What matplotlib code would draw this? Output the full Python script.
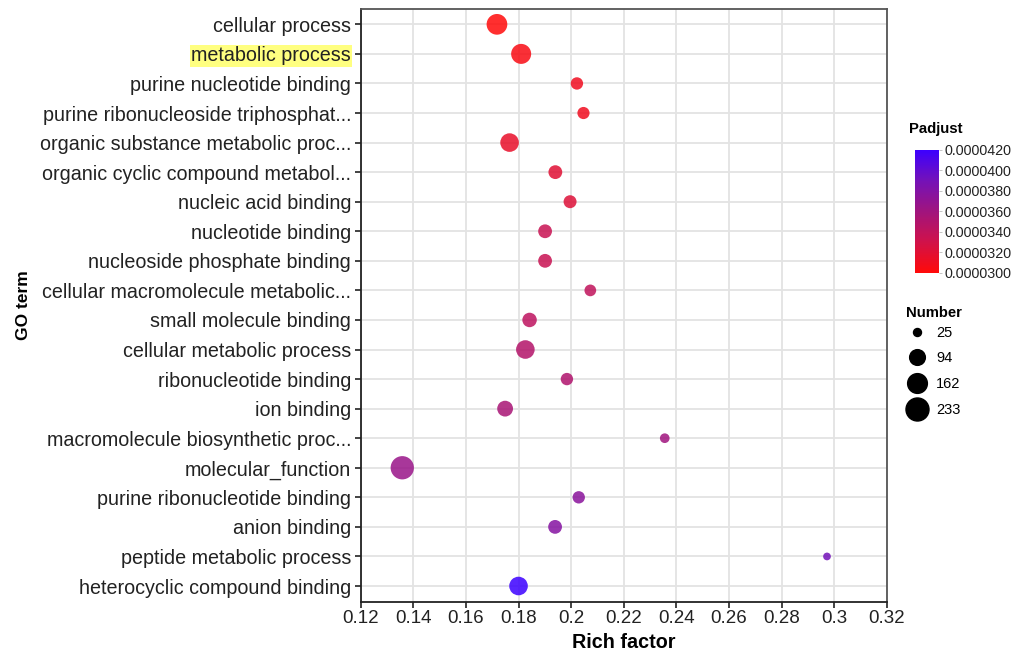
import numpy as np
import matplotlib.pyplot as plt
from matplotlib.colors import LinearSegmentedColormap, Normalize
from matplotlib.cm import ScalarMappable
from matplotlib.lines import Line2D

plt.rcParams['font.family'] = ['Liberation Sans', 'DejaVu Sans']

# GO enrichment results (top to bottom)
terms = [
    "cellular process",
    "metabolic process",
    "purine nucleotide binding",
    "purine ribonucleoside triphosphat...",
    "organic substance metabolic proc...",
    "organic cyclic compound metabol...",
    "nucleic acid binding",
    "nucleotide binding",
    "nucleoside phosphate binding",
    "cellular macromolecule metabolic...",
    "small molecule binding",
    "cellular metabolic process",
    "ribonucleotide binding",
    "ion binding",
    "macromolecule biosynthetic proc...",
    "molecular_function",
    "purine ribonucleotide binding",
    "anion binding",
    "peptide metabolic process",
    "heterocyclic compound binding",
]
rich_factor = [0.1718, 0.1810, 0.2022, 0.2047, 0.1766, 0.1940, 0.1996, 0.1901,
               0.1901, 0.2073, 0.1842, 0.1826, 0.1984, 0.1749, 0.2356, 0.1358,
               0.2029, 0.1939, 0.2973, 0.1800]
number = [181, 167, 54, 52, 140, 69, 60, 69, 69, 48, 77, 140, 54, 95, 33, 240,
          54, 69, 24, 140]
padjust = [3.00e-5, 3.05e-5, 3.10e-5, 3.10e-5, 3.15e-5, 3.20e-5, 3.22e-5,
           3.35e-5, 3.35e-5, 3.40e-5, 3.42e-5, 3.48e-5, 3.50e-5, 3.55e-5,
           3.60e-5, 3.65e-5, 3.75e-5, 3.78e-5, 3.90e-5, 4.20e-5]

size_breaks = [25, 94, 162, 233]
cbar_ticks = [3.0e-5, 3.2e-5, 3.4e-5, 3.6e-5, 3.8e-5, 4.0e-5, 4.2e-5]


def marker_area(n):
    # diameter in pixels grows with sqrt of the rescaled count
    n = np.asarray(n, dtype=float)
    d_px = 5.3 + 18 * np.sqrt(np.clip((n - 20) / 220, 0, None))
    return (d_px * 0.72) ** 2


cmap = LinearSegmentedColormap.from_list(
    "padj", ["#FF0A0A", "#D0124A", "#A0147E", "#7412B8", "#3C00FF"])
norm = Normalize(vmin=3.0e-5, vmax=4.2e-5)

fig = plt.figure(figsize=(10.15, 6.54), dpi=100)
ax = fig.add_axes([0.3554, 0.0800, 0.5182, 0.9063])

ypos = np.arange(len(terms))
ax.scatter(rich_factor, ypos, s=marker_area(number), c=padjust, cmap=cmap,
           norm=norm, alpha=0.85, linewidths=0, zorder=3)

ax.set_xlim(0.12, 0.32)
ax.set_ylim(len(terms) - 0.47, -0.52)
ax.set_xticks(np.arange(0.12, 0.321, 0.02))
ax.set_xticklabels(["0.12", "0.14", "0.16", "0.18", "0.2", "0.22", "0.24",
                    "0.26", "0.28", "0.3", "0.32"])
ax.set_yticks(ypos)
ax.set_yticklabels(terms)
ax.grid(True, color="#E3E3E3", linewidth=1.3, zorder=0)
ax.set_axisbelow(True)
ax.tick_params(axis="y", labelsize=14.2, length=4, width=1.2,
               colors="#222222", labelcolor="#222222", pad=3)
ax.tick_params(axis="x", labelsize=13.5, length=4, width=1.2,
               colors="#222222", labelcolor="#222222", pad=2)
for side, sp in ax.spines.items():
    sp.set_linewidth(1.3)
    sp.set_color("#222222" if side in ("left", "bottom") else "#555555")

ax.set_xlabel("Rich factor", fontsize=14.2, fontweight="bold", labelpad=4)
ax.set_ylabel("GO term", fontsize=12.5, fontweight="bold", labelpad=6)

# highlight one of the terms
ax.get_yticklabels()[1].set_bbox(dict(facecolor="#FFFF80", edgecolor="none",
                                      pad=1))

# colour bar for Padjust
fig.text(0.896, 0.803, "Padjust", fontsize=10.7, fontweight="bold",
         ha="left", va="center")
cax = fig.add_axes([0.901, 0.583, 0.0245, 0.188])
cb = fig.colorbar(ScalarMappable(norm=norm, cmap=cmap), cax=cax,
                  ticks=cbar_ticks)
cb.ax.set_yticklabels([f"{t:.7f}" for t in cbar_ticks])
cb.ax.tick_params(labelsize=10.3, length=2, width=0.6, colors="#bbbbbb",
                  labelcolor="#222222", pad=2)
cb.outline.set_visible(False)

# size legend for Number
fig.text(0.893, 0.5214, "Number", fontsize=10.7, fontweight="bold",
         ha="left", va="center")
handles = [Line2D([], [], linestyle="none", marker="o", color="black",
                  markersize=np.sqrt(marker_area(n))) for n in size_breaks]
fig.legend(handles, [str(n) for n in size_breaks],
           loc="upper left", bbox_to_anchor=(0.888, 0.511), frameon=False,
           fontsize=10.5, labelspacing=0.8, handletextpad=0.6,
           borderaxespad=0, handlelength=1.4)

fig.savefig("out.png", dpi=100)
